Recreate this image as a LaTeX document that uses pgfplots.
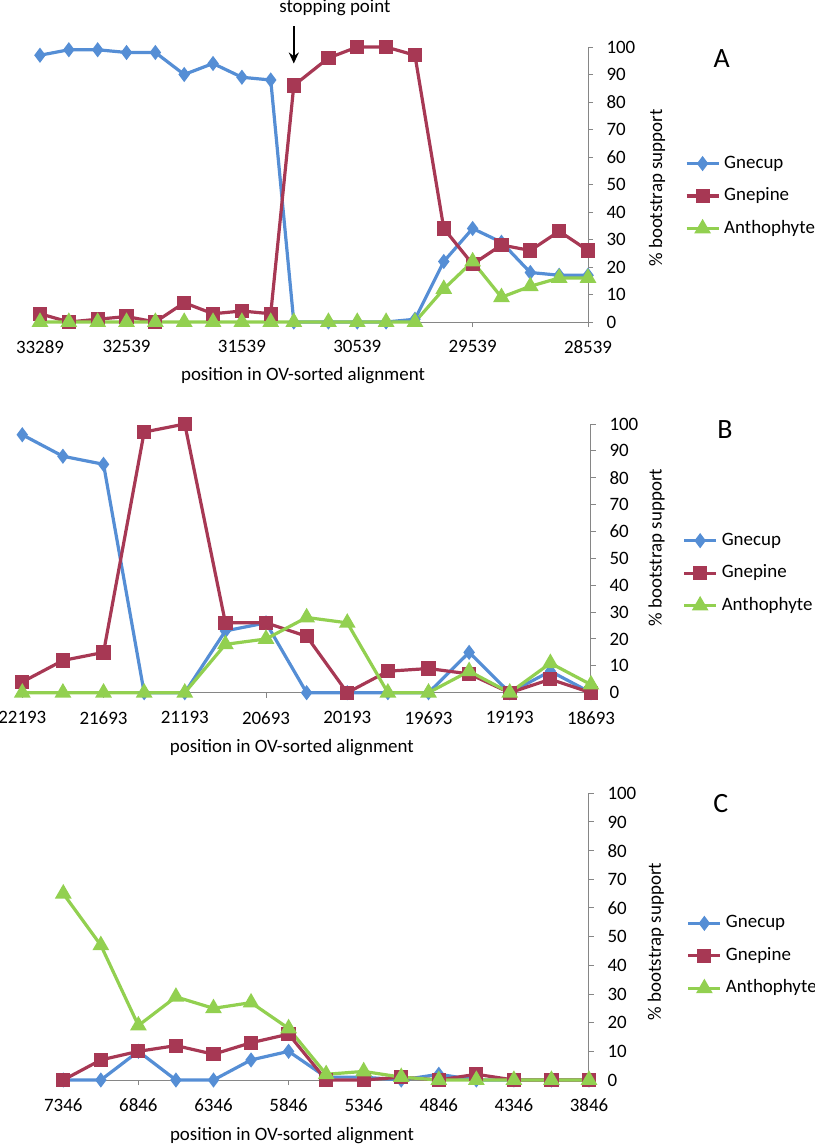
\documentclass[border=0pt]{standalone}
\usepackage{fontspec}
\setmainfont{Carlito}
\usepackage{pgfplots}
\pgfplotsset{compat=1.18}
\usetikzlibrary{arrows.meta}
\definecolor{cblue}{HTML}{558ED5}
\definecolor{cred}{HTML}{A73854}
\definecolor{cgreen}{HTML}{92D050}
\definecolor{caxis}{HTML}{868686}
\newcommand{\fs}{\fontsize{19}{22}\selectfont}
\pgfplotsset{
 panel/.style={
  scale only axis, enlargelimits=false, x dir=reverse, clip=false,
  ymin=0, ymax=100, ytick={0,10,...,100},
  scaled x ticks=false, scaled y ticks=false,
  axis x line*=bottom, axis y line*=right,
  axis line style={caxis, line width=1bp},
  tick style={caxis, line width=1bp}, major tick length=5bp, tick align=outside,
  /pgf/number format/assume math mode=true,
  tick label style={font=\fs, black},
  xticklabel style={yshift=-10bp},
  yticklabel style={xshift=10bp},
  label style={font=\fs},
  xlabel={position in OV-sorted alignment},
  ylabel={\% bootstrap support},
  legend image code/.code={\draw[mark repeat=2,mark phase=2,##1] plot coordinates {(0bp,0bp) (16bp,0bp) (32bp,0bp)};},
  legend cell align=left,
  legend style={draw=none, fill=none, anchor=west, inner sep=0pt, outer sep=0pt, font=\fs, row sep=15.5bp,
    nodes={inner sep=0pt, text height=13bp, text depth=4bp},
    /tikz/every odd column/.append style={column sep=4bp}},
 },
 sGc/.style={color=cblue, line width=3.2bp, mark=diamond*, mark size=5bp, mark options={solid}},
 sGp/.style={color=cred, line width=3.2bp, mark=square*, mark size=5.5bp, mark options={solid}},
 sAn/.style={color=cgreen, line width=3.2bp, mark=triangle*, mark size=6.5bp, mark options={solid}},
}
\pgfplotstableread{
x gc gp an
33289 97 3 0
33039 99 0 0
32789 99 1 0
32539 98 2 0
32289 98 0 0
32039 90 7 0
31789 94 3 0
31539 89 4 0
31289 88 3 0
31089 0 86 0
30789 0 96 0
30539 0 100 0
30289 0 100 0
30039 1 97 0
29789 22 34 12
29539 34 21 22
29289 29 28 9
29039 18 26 13
28789 17 33 16
28539 17 26 16
}\tA
\pgfplotstableread{
x gc gp an
22193 96 4 0
21943 88 12 0
21693 85 15 0
21443 0 97 0
21193 0 100 0
20943 23 26 18
20693 26 26 20
20443 0 21 28
20193 0 0 26
19943 0 8 0
19693 0 9 0
19443 15 7 8
19193 0 0 0
18943 8 5 11
18693 0 0 3
}\tB
\pgfplotstableread{
x gc gp an
7346 0 0 65
7096 0 7 47
6846 10 10 19
6596 0 12 29
6346 0 9 25
6096 7 13 27
5846 10 16 18
5596 1 0 2
5346 1 0 3
5096 0 1 1
4846 2 0 0
4596 0 2 0
4346 0 0 0
4096 0 0 0
3846 0 0 0
}\tC
\begin{document}
\begin{tikzpicture}
\path[use as bounding box] (0,0) rectangle (815bp,-1145bp);
% Panel A
\begin{axis}[panel, at={(40bp,-322bp)}, anchor=south west, width=548bp, height=275bp,
  xmin=28539, xmax=33289, xtick={28539,29539,30539,31539,32539,33289},
  xticklabels={28539,29539,30539,31539,32539,33289},
  x label style={at={(axis description cs:0.48,-0.195)}, anchor=center},
  y label style={at={(axis description cs:1.126,0.487)}, anchor=center},
  legend style={at={(axis description cs:1.177,0.458)}}]
\addplot[sGc] table[x=x,y=gc] {\tA};
\addplot[sGp] table[x=x,y=gp] {\tA};
\addplot[sAn] table[x=x,y=an] {\tA};
\legend{Gnecup,Gnepine,Anthophyte}
\node[font=\fontsize{28}{30}\selectfont] at (axis description cs:1.244,0.959) {A};
\node[font=\fs] at (axis cs:30733,114.3) {stopping point};
\draw[-{Stealth[length=11bp,width=10bp]}, line width=2bp, black] (axis cs:31089,107.5) -- (axis cs:31089,94);
\end{axis}
% Panel B
\begin{axis}[panel, at={(22.3bp,-692.7bp)}, anchor=south west, width=568.7bp, height=268.7bp,
  xmin=18693, xmax=22193, xtick={18693,19193,19693,20193,20693,21193,21693,22193},
  xticklabels={18693,19193,19693,20193,20693,21193,21693,22193},
  x label style={at={(axis description cs:0.474,-0.205)}, anchor=center},
  y label style={at={(axis description cs:1.1155,0.54)}, anchor=center},
  legend style={at={(axis description cs:1.161,0.445)}}]
\addplot[sGc] table[x=x,y=gc] {\tB};
\addplot[sGp] table[x=x,y=gp] {\tB};
\addplot[sAn] table[x=x,y=an] {\tB};
\legend{Gnecup,Gnepine,Anthophyte}
\node[font=\fontsize{28}{30}\selectfont] at (axis description cs:1.2356,0.981) {B};
\end{axis}
% Panel C
\begin{axis}[panel, at={(63.3bp,-1080bp)}, anchor=south west, width=525.7bp, height=286.7bp,
  xmin=3846, xmax=7346, xtick={3846,4346,4846,5346,5846,6346,6846,7346},
  xticklabels={3846,4346,4846,5346,5846,6346,6846,7346},
  x label style={at={(axis description cs:0.435,-0.193)}, anchor=center},
  y label style={at={(axis description cs:1.127,0.483)}, anchor=center},
  legend style={at={(axis description cs:1.186,0.433)}}]
\addplot[sGc] table[x=x,y=gc] {\tC};
\addplot[sGp] table[x=x,y=gp] {\tC};
\addplot[sAn] table[x=x,y=an] {\tC};
\legend{Gnecup,Gnepine,Anthophyte}
\node[font=\fontsize{28}{30}\selectfont] at (axis description cs:1.2505,0.965) {C};
\end{axis}
\end{tikzpicture}
\end{document}
